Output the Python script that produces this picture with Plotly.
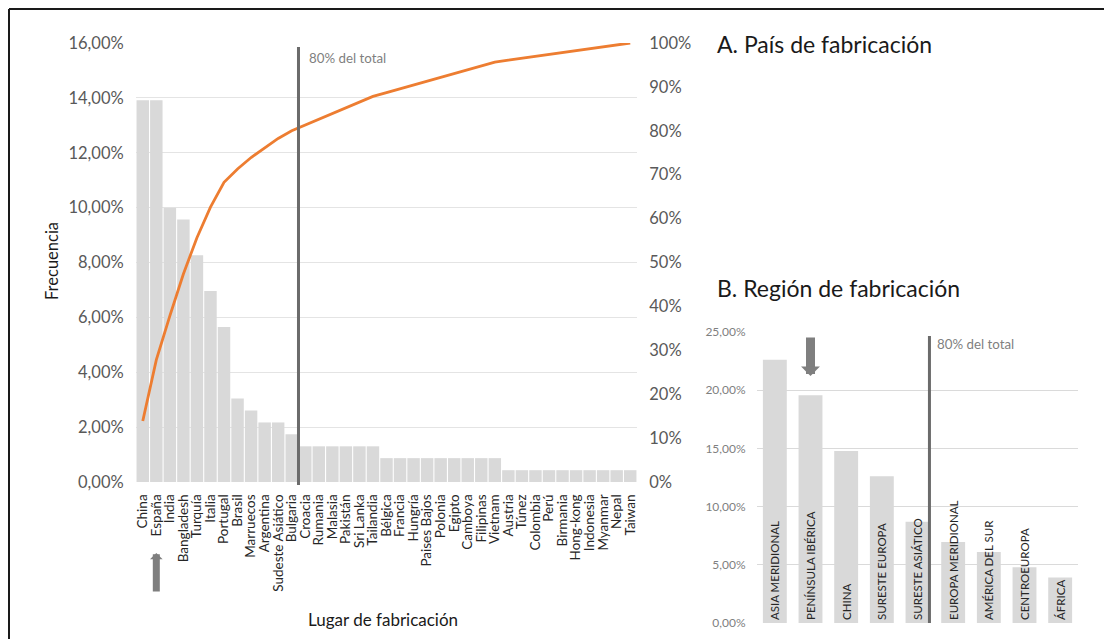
import plotly.graph_objects as go

W, H = 1112, 639
OX, OY = 8, 8  # margen del <body> de la página

# ======= A. País de fabricación (Pareto) ============
paises = ["China", "España", "India", "Bangladesh", "Turquía", "Italia", "Portugal",
          "Brasil", "Marruecos", "Argentina", "Sudeste Asiático", "Bulgaria", "Croacia",
          "Rumania", "Malasia", "Pakistán", "Sri Lanka", "Tailandia", "Bélgica", "Francia",
          "Hungría", "Paises Bajos", "Polonia", "Egipto", "Camboya", "Filipinas", "Vietnam",
          "Austria", "Túnez", "Colombia", "Perú", "Birmania", "Hong-kong", "Indonesia",
          "Myanmar", "Nepal", "Taiwan"]
frecuencia_pais = [0.1391, 0.1391, 0.1000, 0.0957, 0.0826, 0.0696, 0.0565,
                   0.0304, 0.0261, 0.0217, 0.0217, 0.0174, 0.0130,
                   0.0130, 0.0130, 0.0130, 0.0130, 0.0130, 0.0087, 0.0087,
                   0.0087, 0.0087, 0.0087, 0.0087, 0.0087, 0.0087, 0.0087,
                   0.0043, 0.0043, 0.0043, 0.0043, 0.0043, 0.0043, 0.0043,
                   0.0043, 0.0043, 0.0043]
acumulado_pais = [0.1391, 0.2783, 0.3783, 0.4739, 0.5565, 0.6261, 0.6826,
                  0.7130, 0.7391, 0.7609, 0.7826, 0.8000, 0.8130,
                  0.8261, 0.8391, 0.8522, 0.8652, 0.8783, 0.8870, 0.8957,
                  0.9043, 0.9130, 0.9217, 0.9304, 0.9391, 0.9478, 0.9565,
                  0.9609, 0.9652, 0.9696, 0.9739, 0.9783, 0.9826, 0.9870,
                  0.9913, 0.9957, 1.0000]

# ======= B. Región de fabricación ============
regiones = ["ASIA MERIDIONAL", "PENÍNSULA IBÉRICA", "CHINA", "SURESTE EUROPA",
            "SURESTE ASIÁTICO", "EUROPA MERIDIONAL", "AMÉRICA DEL SUR",
            "CENTROEUROPA", "ÁFRICA"]
frecuencia_region = [0.2261, 0.1957, 0.1478, 0.1261, 0.0870, 0.0696, 0.0609, 0.0478, 0.0391]

FONT = "Lato"
GRAY_BAR = "#d9d9d9"
GRID = "#e4e4e4"
TICK = "#595959"
ORANGE = "#ED7D31"
MARK = "#6b6b6b"


def px_x(v):
    return (v - OX) / W


def px_y(v):
    return 1 - (v - OY) / H


fig = go.Figure()

fig.add_trace(go.Bar(x=paises, y=frecuencia_pais, marker=dict(color=GRAY_BAR, line=dict(width=0)),
                     width=0.92, xaxis="x", yaxis="y", hoverinfo="skip"))
fig.add_trace(go.Scatter(x=paises, y=acumulado_pais, mode="lines",
                         line=dict(color=ORANGE, width=2.8), xaxis="x", yaxis="y2", hoverinfo="skip"))

fig.add_trace(go.Bar(x=regiones, y=frecuencia_region, marker=dict(color=GRAY_BAR, line=dict(width=0)),
                     width=0.67, xaxis="x2", yaxis="y3", hoverinfo="skip",
                     text=regiones, textposition="inside", insidetextanchor="start",
                     textangle=-90, constraintext="none",
                     textfont=dict(family=FONT, size=11.5, color="#262626")))

fig.update_layout(
    width=W, height=H,
    margin=dict(l=0, r=0, t=0, b=0, autoexpand=False),
    paper_bgcolor="white", plot_bgcolor="white",
    separators=", ",
    showlegend=False,
    font=dict(family=FONT, color=TICK),
    xaxis=dict(domain=[px_x(136), px_x(637)], type="category", range=[-0.5, 36.5],
               tickmode="linear", dtick=1, automargin=False,
               tickangle=-90, tickfont=dict(size=13.5, color="#262626"),
               ticks="outside", ticklen=6, tickcolor="rgba(0,0,0,0)",
               showgrid=False, zeroline=False, showline=False),
    yaxis=dict(domain=[px_y(482), px_y(43)], range=[0, 0.16], dtick=0.02, tickformat=".2%",
               automargin=False,
               tickfont=dict(size=16.5, color=TICK), ticks="outside", ticklen=8,
               tickcolor="rgba(0,0,0,0)", showgrid=True, gridcolor=GRID, gridwidth=1,
               zeroline=False, showline=False),
    yaxis2=dict(domain=[px_y(482), px_y(43)], range=[0, 1], dtick=0.1, tickformat=".0%",
                overlaying="y", side="right", anchor="x", automargin=False,
                tickfont=dict(size=16.5, color=TICK), ticks="outside", ticklen=8,
                tickcolor="rgba(0,0,0,0)", showgrid=False, zeroline=False, showline=False),
    xaxis2=dict(domain=[px_x(757), px_x(1078)], type="category", range=[-0.5, 8.5],
                anchor="y3", automargin=False,
                showticklabels=False, showgrid=False, zeroline=False, showline=False),
    yaxis3=dict(domain=[px_y(623), px_y(332)], range=[0, 0.25], dtick=0.05, tickformat=".2%",
                anchor="x2", automargin=False,
                tickfont=dict(size=12, color="#7f7f7f"), ticks="outside",
                ticklen=8, tickcolor="rgba(0,0,0,0)", showgrid=True, gridcolor="#dadada",
                zeroline=False, showline=False),
)

# Líneas del 80% del total
fig.add_shape(type="line", xref="x", yref="paper", x0=11.5, x1=11.5, y0=px_y(485), y1=px_y(47),
              line=dict(color=MARK, width=3))
fig.add_shape(type="line", xref="x2", yref="paper", x0=4.335, x1=4.335, y0=px_y(623), y1=px_y(336),
              line=dict(color=MARK, width=3))

# Marco de la figura
fig.add_shape(type="line", xref="paper", yref="paper", x0=px_x(9), x1=px_x(9), y0=0, y1=px_y(9),
              line=dict(color="#1a1a1a", width=2))
fig.add_shape(type="line", xref="paper", yref="paper", x0=px_x(9), x1=1, y0=px_y(9), y1=px_y(9),
              line=dict(color="#1a1a1a", width=2))

annotations = [
    dict(text="80% del total", xref="x", yref="paper", x=11.5, y=px_y(58), xshift=9,
         xanchor="left", yanchor="middle", showarrow=False, font=dict(size=13.3, color="#7f7f7f")),
    dict(text="80% del total", xref="x2", yref="paper", x=4.335, y=px_y(344), xshift=6,
         xanchor="left", yanchor="middle", showarrow=False, font=dict(size=13.3, color="#7f7f7f")),
    dict(text="A. País de fabricación", xref="paper", yref="paper", x=px_x(715), y=px_y(44),
         xanchor="left", yanchor="middle", showarrow=False, font=dict(size=23, color="#1a1a1a")),
    dict(text="B. Región de fabricación", xref="paper", yref="paper", x=px_x(715), y=px_y(288),
         xanchor="left", yanchor="middle", showarrow=False, font=dict(size=23, color="#1a1a1a")),
    dict(text="Frecuencia", xref="paper", yref="paper", x=px_x(52), y=px_y(261), textangle=-90,
         xanchor="center", yanchor="middle", showarrow=False, font=dict(size=16.5, color="#1a1a1a")),
    dict(text="Lugar de fabricación", xref="paper", yref="paper", x=px_x(383), y=px_y(619),
         xanchor="center", yanchor="middle", showarrow=False, font=dict(size=17, color="#1a1a1a")),
    # flechas
    dict(text="", xref="x", yref="paper", x=paises[1], y=px_y(553), ax=0, ay=40,
         showarrow=True, arrowhead=1, arrowwidth=7, arrowsize=0.3, arrowcolor="#7f7f7f"),
    dict(text="", xref="x2", yref="paper", x=regiones[1], y=px_y(376), ax=0, ay=-40,
         showarrow=True, arrowhead=1, arrowwidth=9, arrowsize=0.35, arrowcolor="#7f7f7f"),
]
fig.update_layout(annotations=annotations)

fig.write_html("out.html", config={"displayModeBar": False})
